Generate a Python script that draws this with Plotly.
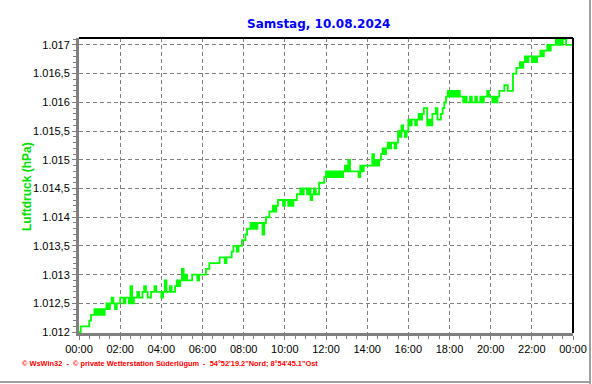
import pandas as pd
import plotly.graph_objects as go

# 5-minute readings (hPa), one row per hour
h00 = [1012.0, 1012.1, 1012.1, 1012.1, 1012.1, 1012.1, 1012.2, 1012.3, 1012.3, 1012.4, 1012.3, 1012.4]
h01 = [1012.3, 1012.4, 1012.3, 1012.4, 1012.5, 1012.4, 1012.5, 1012.6, 1012.5, 1012.4, 1012.5, 1012.5]
h02 = [1012.6, 1012.6, 1012.5, 1012.6, 1012.6, 1012.5, 1012.8, 1012.5, 1012.6, 1012.6, 1012.7, 1012.6]
h03 = [1012.6, 1012.7, 1012.8, 1012.7, 1012.6, 1012.6, 1012.7, 1012.7, 1012.8, 1012.7, 1012.7, 1012.7]
h04 = [1012.6, 1012.7, 1012.9, 1012.7, 1012.7, 1012.8, 1012.7, 1012.7, 1012.8, 1012.9, 1012.8, 1012.9]
h05 = [1013.1, 1012.9, 1013.0, 1012.9, 1012.9, 1012.9, 1013.0, 1013.0, 1013.0, 1012.9, 1013.0, 1013.0]
h06 = [1013.0, 1013.0, 1013.1, 1013.1, 1013.2, 1013.2, 1013.2, 1013.2, 1013.2, 1013.2, 1013.3, 1013.3]
h07 = [1013.3, 1013.2, 1013.3, 1013.3, 1013.3, 1013.4, 1013.5, 1013.5, 1013.4, 1013.5, 1013.5, 1013.6]
h08 = [1013.6, 1013.7, 1013.8, 1013.8, 1013.9, 1013.8, 1013.9, 1013.8, 1013.9, 1013.9, 1013.9, 1013.7]
h09 = [1013.9, 1014.0, 1014.0, 1014.1, 1014.1, 1014.2, 1014.1, 1014.2, 1014.3, 1014.3, 1014.3, 1014.2]
h10 = [1014.3, 1014.3, 1014.2, 1014.3, 1014.2, 1014.3, 1014.3, 1014.4, 1014.4, 1014.5, 1014.4, 1014.5]
h11 = [1014.5, 1014.4, 1014.5, 1014.3, 1014.4, 1014.5, 1014.4, 1014.4, 1014.6, 1014.6, 1014.6, 1014.7]
h12 = [1014.8, 1014.7, 1014.8, 1014.7, 1014.8, 1014.7, 1014.8, 1014.7, 1014.8, 1014.7, 1014.8, 1014.9]
h13 = [1014.8, 1015.0, 1014.8, 1014.8, 1014.8, 1014.8, 1014.8, 1014.7, 1014.9, 1014.8, 1014.9, 1014.9]
h14 = [1014.9, 1014.9, 1014.9, 1015.1, 1014.9, 1015.0, 1014.9, 1015.0, 1015.1, 1015.2, 1015.1, 1015.2]
h15 = [1015.3, 1015.2, 1015.3, 1015.3, 1015.2, 1015.3, 1015.5, 1015.4, 1015.6, 1015.5, 1015.4, 1015.5]
h16 = [1015.7, 1015.6, 1015.7, 1015.7, 1015.6, 1015.7, 1015.8, 1015.7, 1015.8, 1015.9, 1015.9, 1015.6]
h17 = [1015.7, 1015.6, 1015.8, 1015.8, 1015.9, 1015.7, 1015.7, 1015.8, 1015.9, 1016.0, 1016.1, 1016.2]
h18 = [1016.1, 1016.2, 1016.1, 1016.2, 1016.1, 1016.2, 1016.1, 1016.1, 1016.0, 1016.1, 1016.0, 1016.0]
h19 = [1016.1, 1016.0, 1016.0, 1016.1, 1016.0, 1016.0, 1016.1, 1016.0, 1016.1, 1016.1, 1016.2, 1016.1]
h20 = [1016.1, 1016.0, 1016.1, 1016.0, 1016.1, 1016.2, 1016.2, 1016.2, 1016.3, 1016.3, 1016.2, 1016.2]
h21 = [1016.2, 1016.5, 1016.5, 1016.6, 1016.6, 1016.7, 1016.6, 1016.7, 1016.8, 1016.7, 1016.8, 1016.8]
h22 = [1016.7, 1016.8, 1016.7, 1016.8, 1016.8, 1016.9, 1016.8, 1016.9, 1016.9, 1017.0, 1016.9, 1017.0]
h23 = [1017.0, 1017.0, 1017.1, 1017.0, 1017.1, 1017.0, 1017.1, 1017.1, 1017.0, 1017.0, 1017.0, 1017.0]
last_value = [1017.0]

pressure = (h00 + h01 + h02 + h03 + h04 + h05 + h06 + h07 + h08 + h09 + h10 + h11 +
            h12 + h13 + h14 + h15 + h16 + h17 + h18 + h19 + h20 + h21 + h22 + h23 + last_value)
times = pd.date_range("2024-08-10 00:00", periods=len(pressure), freq="5min")

y_tick_vals = [1012, 1012.5, 1013, 1013.5, 1014, 1014.5, 1015, 1015.5, 1016, 1016.5, 1017]
y_tick_text = ["1.012", "1.012,5", "1.013", "1.013,5", "1.014", "1.014,5",
               "1.015", "1.015,5", "1.016", "1.016,5", "1.017"]

title_text = "Samstag, 10.08.2024"
y_title = "Luftdruck (hPa)"
footer = "© WsWin32  -  © private Wetterstation Süderlügum  -  54°52'19.2\"Nord; 8°54'45.1\"Ost"

W, H = 592, 384
L, R, T, B = 79, 19, 38, 51
PW, PH = W - L - R, H - T - B


def px_x(x):
    return (x - L) / PW


def px_y(y):
    return (H - B - y) / PH


fig = go.Figure()
fig.add_trace(go.Scatter(x=times, y=pressure, mode="lines", line_shape="hv",
                         line=dict(color="#00FF00", width=1.8), showlegend=False,
                         hoverinfo="skip"))

font_main = "Liberation Sans, Arial, sans-serif"
grid_dash = "4px,3px"
fig.update_layout(
    width=W, height=H, autosize=False,
    margin=dict(l=L, r=R, t=T, b=B, autoexpand=False),
    paper_bgcolor="white", plot_bgcolor="white",
    font=dict(family=font_main, size=11, color="black"),
    xaxis=dict(
        range=[pd.Timestamp("2024-08-10 00:00"), pd.Timestamp("2024-08-11 00:00")],
        tickformat="%H:%M", dtick=2 * 3600 * 1000,
        tick0=pd.Timestamp("2024-08-10 00:00"),
        showgrid=True, gridcolor="#808080", griddash=grid_dash, gridwidth=1,
        showline=True, linecolor="#808080", linewidth=3,
        ticks="outside", ticklen=4, tickcolor="#808080", tickwidth=1,
        minor=dict(dtick=30 * 60 * 1000, ticks="outside", ticklen=3,
                   tickcolor="#808080", showgrid=False),
        tickfont=dict(size=11, color="black"),
        zeroline=False, fixedrange=True, automargin=False,
    ),
    yaxis=dict(
        range=[1011.985, 1017.12],
        tickvals=y_tick_vals, ticktext=y_tick_text,
        showgrid=True, gridcolor="#808080", griddash=grid_dash, gridwidth=1,
        showline=True, linecolor="#808080", linewidth=3,
        ticks="outside", ticklen=4, tickcolor="#808080", tickwidth=1,
        minor=dict(dtick=0.1, tick0=1012, ticks="outside", ticklen=3,
                   tickcolor="#808080", showgrid=False),
        tickfont=dict(size=11, color="black"),
        zeroline=False, fixedrange=True, automargin=False,
    ),
    shapes=[
        dict(type="line", xref="paper", yref="paper", x0=0, x1=1, y0=1, y1=1,
             line=dict(color="black", width=2)),
        dict(type="line", xref="paper", yref="paper", x0=1, x1=1, y0=0, y1=1,
             line=dict(color="black", width=2)),
        dict(type="line", xref="paper", yref="paper", x0=px_x(590), x1=px_x(590),
             y0=px_y(384), y1=px_y(0), line=dict(color="#a0a0a0", width=2)),
        dict(type="line", xref="paper", yref="paper", x0=px_x(0), x1=px_x(591),
             y0=px_y(382), y1=px_y(382), line=dict(color="#a0a0a0", width=2)),
    ],
    annotations=[
        dict(text="<b>" + title_text + "</b>", xref="paper", yref="paper",
             x=px_x(318), y=px_y(24), xanchor="center", yanchor="middle",
             showarrow=False,
             font=dict(family="DejaVu Sans, sans-serif", size=12, color="#0000FF")),
        dict(text="<b>" + y_title + "</b>", xref="paper", yref="paper",
             x=px_x(27), y=px_y(187), xanchor="center", yanchor="middle",
             textangle=-90, showarrow=False,
             font=dict(family=font_main, size=12, color="#00E000")),
        dict(text="<b>" + footer + "</b>", xref="paper", yref="paper",
             x=px_x(20), y=px_y(363), xanchor="left", yanchor="middle",
             showarrow=False, font=dict(family=font_main, size=7.4, color="#FF0000")),
    ],
)

fig.write_html(
    "out.html",
    config={"displayModeBar": False, "staticPlot": True},
    post_script="document.body.style.margin='0px';document.body.style.overflow='hidden';",
)
